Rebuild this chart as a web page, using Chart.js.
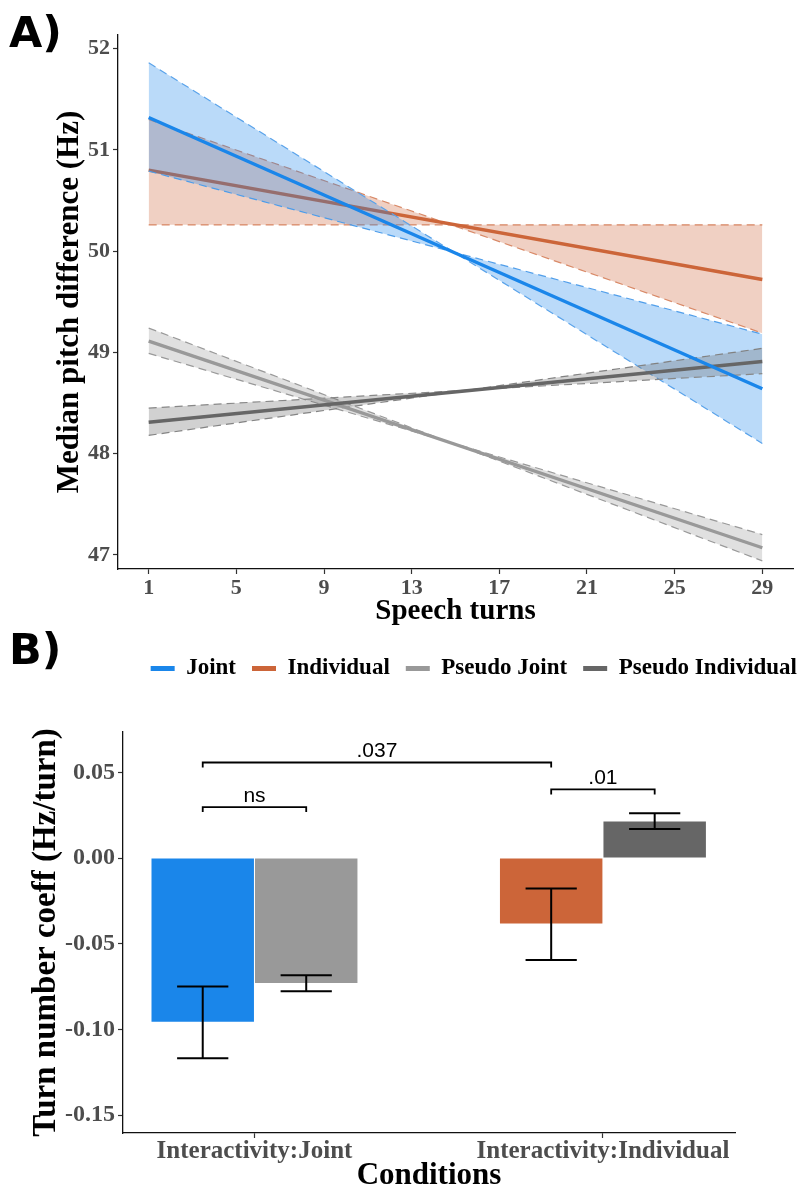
<!DOCTYPE html>
<html><head><meta charset="utf-8">
<script src="https://cdn.jsdelivr.net/npm/chart.js@4.4.1/dist/chart.umd.min.js"></script>
<style>
html,body{margin:0;padding:0;background:#fff;width:800px;height:1191px;overflow:hidden;}
#wa{position:absolute;left:0;top:0;width:800px;height:690px;}
#wb{position:absolute;left:0;top:690px;width:800px;height:501px;}
.pl{position:absolute;font-family:'DejaVu Sans';font-weight:bold;font-size:43px;line-height:1;color:#000;}
</style></head><body>
<div id="wa"><canvas id="ca" width="800" height="690"></canvas></div>
<div id="wb"><canvas id="cb" width="800" height="501"></canvas></div>
<div class="pl" style="left:9px;top:11px">A)</div>
<div class="pl" style="left:9px;top:628px">B)</div>
<script>
// ---------- Panel A data ----------
const turns = [1, 29];
const xTicksA = [1, 5, 9, 13, 17, 21, 25, 29];
const yTicksA = [47, 48, 49, 50, 51, 52];
const jointFit = [51.32, 48.64];
const jointCiA = [51.86, 48.10];
const jointCiB = [50.79, 49.18];
const indivFit = [50.80, 49.72];
const indivCiA = [51.30, 49.19];
const indivCiB = [50.26, 50.26];
const pJointFit = [49.11, 47.07];
const pJointCiA = [49.24, 46.94];
const pJointCiB = [48.99, 47.20];
const pIndivFit = [48.31, 48.91];
const pIndivCiA = [48.45, 48.79];
const pIndivCiB = [48.18, 49.04];
const seriesNames = ['Joint', 'Individual', 'Pseudo Joint', 'Pseudo Individual'];

// ---------- Panel B data ----------
const conditions = ['Interactivity:Joint', 'Interactivity:Individual'];
const yTicksB = [-0.15, -0.10, -0.05, 0.00, 0.05];
const realCoef = [-0.0955, -0.0382];
const realLo = [-0.1169, -0.0595];
const realHi = [-0.0750, -0.0177];
const pseudoCoef = [-0.0729, 0.0213];
const pseudoLo = [-0.0777, 0.0170];
const pseudoHi = [-0.0684, 0.0262];
const sigLabels = ['.037', 'ns', '.01'];
const sigY = [0.0558, 0.0298, 0.0401];

// ---------- styles ----------
const C = {
  joint: '#1a86ea', jointDash: '#5aa3ea', jointFill: 'rgba(26,134,234,0.30)',
  indiv: '#cc6539', indivDash: '#d98a68', indivFill: 'rgba(204,101,57,0.30)',
  pj: '#999999', pjDash: '#9a9a9a', pjFill: 'rgba(153,153,153,0.30)',
  pi: '#666666', piDash: '#888888', piFill: 'rgba(102,102,102,0.30)'
};
const SERIF = "'Liberation Serif', 'Times New Roman', serif";
const pts = ys => turns.map((t, i) => ({x: t, y: ys[i]}));
function fitLine(label, ys, color, rank) {
  return {label, data: pts(ys), borderColor: color, backgroundColor: color, borderWidth: 3.4,
    pointRadius: 0, fill: false, legendRank: rank, borderCapStyle: 'butt'};
}
function ciLine(ys, color, fillColor, target) {
  return {label: '', data: pts(ys), borderColor: color, borderWidth: 1.2, borderDash: [8, 5],
    pointRadius: 0, backgroundColor: fillColor, fill: target === undefined ? false : {target}};
}

// dataset 0 is drawn on top
const dsA = [
  fitLine(seriesNames[0], jointFit, C.joint, 0),            // 0
  fitLine(seriesNames[3], pIndivFit, C.pi, 3),              // 1
  fitLine(seriesNames[2], pJointFit, C.pj, 2),              // 2
  ciLine(pIndivCiA, C.piDash, C.piFill, 4),                 // 3
  ciLine(pIndivCiB, C.piDash, C.piFill),                    // 4
  ciLine(pJointCiA, C.pjDash, C.pjFill, 6),                 // 5
  ciLine(pJointCiB, C.pjDash, C.pjFill),                    // 6
  ciLine(jointCiA, C.jointDash, C.jointFill, 8),            // 7
  ciLine(jointCiB, C.jointDash, C.jointFill),               // 8
  fitLine(seriesNames[1], indivFit, C.indiv, 1),            // 9
  ciLine(indivCiA, C.indivDash, C.indivFill, 11),           // 10
  ciLine(indivCiB, C.indivDash, C.indivFill)                // 11
];

const legendShift = {
  id: 'legendShift',
  afterLayout(chart) {
    if (chart.legend) { chart.legend.left += 20; chart.legend.right += 20; }
  }
};

new Chart(document.getElementById('ca'), {
  type: 'line',
  data: {datasets: dsA},
  plugins: [legendShift],
  options: {
    responsive: false, animation: false, parsing: true,
    layout: {padding: {top: 35, right: 7, bottom: 0, left: 0}},
    plugins: {
      tooltip: {enabled: false},
      filler: {drawTime: 'beforeDatasetDraw', propagate: false},
      legend: {
        position: 'bottom', align: 'end',
        labels: {
          boxWidth: 24, boxHeight: 5, padding: 16, color: '#000',
          font: {family: SERIF, weight: 'bold', size: 23},
          generateLabels: chart => {
            const items = Chart.defaults.plugins.legend.labels.generateLabels(chart);
            const ds = chart.data.datasets;
            return items.filter(it => ds[it.datasetIndex].legendRank !== undefined)
              .sort((a, b) => ds[a.datasetIndex].legendRank - ds[b.datasetIndex].legendRank)
              .map(it => Object.assign(it, {fillStyle: ds[it.datasetIndex].borderColor,
                strokeStyle: 'rgba(0,0,0,0)', lineWidth: 0, lineDash: [], fontColor: '#000'}));
          }
        }
      }
    },
    scales: {
      x: {
        type: 'linear', min: -0.4, max: 30.4,
        afterBuildTicks: s => { s.ticks = xTicksA.map(v => ({value: v})); },
        afterFit: s => { s.height = 72; },
        grid: {offset: false, drawOnChartArea: false, drawTicks: true, tickLength: 5, tickColor: '#333', tickWidth: 1.2},
        border: {display: true, color: '#111', width: 1.3},
        ticks: {color: '#4d4d4d', padding: 3, maxRotation: 0, autoSkip: false,
          font: {family: SERIF, weight: 'bold', size: 22, lineHeight: 1}},
        title: {display: true, text: 'Speech turns', color: '#000',
          font: {family: SERIF, weight: 'bold', size: 29, lineHeight: 1.2}, padding: {top: 0, bottom: 12}}
      },
      y: {
        type: 'linear', min: 46.86, max: 52.135,
        afterBuildTicks: s => { s.ticks = yTicksA.map(v => ({value: v})); },
        afterFit: s => { s.width = 118; },
        grid: {drawOnChartArea: false, drawTicks: true, tickLength: 5, tickColor: '#333', tickWidth: 1.2},
        border: {display: true, color: '#111', width: 1.3},
        ticks: {color: '#4d4d4d', padding: 3,
          font: {family: SERIF, weight: 'bold', size: 22, lineHeight: 1}},
        title: {display: true, text: 'Median pitch difference (Hz)', color: '#000',
          font: {family: SERIF, weight: 'bold', size: 31, lineHeight: 1.2}, padding: {top: 51, bottom: 0}}
      }
    }
  }
});

// ---------- Panel B ----------
const errLo = [realLo, pseudoLo];
const errHi = [realHi, pseudoHi];
const sigFrom = [[0, 0], [0, 0], [0, 1]];
const sigTo = [[0, 1], [1, 0], [1, 1]];

const errPlugin = {
  id: 'errs',
  afterDatasetsDraw(chart) {
    const ctx = chart.ctx, ys = chart.scales.y;
    ctx.save();
    ctx.strokeStyle = '#000';
    ctx.lineWidth = 2;
    errLo.forEach((lo, d) => {
      chart.getDatasetMeta(d).data.forEach((bar, i) => {
        const x = bar.x, h = bar.width / 4;
        const y1 = ys.getPixelForValue(lo[i]), y2 = ys.getPixelForValue(errHi[d][i]);
        ctx.beginPath();
        ctx.moveTo(x, y1); ctx.lineTo(x, y2);
        ctx.moveTo(x - h, y1); ctx.lineTo(x + h, y1);
        ctx.moveTo(x - h, y2); ctx.lineTo(x + h, y2);
        ctx.stroke();
      });
    });
    ctx.lineWidth = 1.8;
    ctx.fillStyle = '#000';
    ctx.font = "21px 'Liberation Sans', Arial, sans-serif";
    ctx.textAlign = 'center';
    ctx.textBaseline = 'alphabetic';
    sigLabels.forEach((lab, k) => {
      const a = chart.getDatasetMeta(sigFrom[k][0]).data[sigFrom[k][1]];
      const b = chart.getDatasetMeta(sigTo[k][0]).data[sigTo[k][1]];
      const y = ys.getPixelForValue(sigY[k]);
      ctx.beginPath();
      ctx.moveTo(a.x, y + 5); ctx.lineTo(a.x, y); ctx.lineTo(b.x, y); ctx.lineTo(b.x, y + 5);
      ctx.stroke();
      ctx.fillText(lab, (a.x + b.x) / 2, y - 5);
    });
    ctx.restore();
  }
};

new Chart(document.getElementById('cb'), {
  type: 'bar',
  data: {
    datasets: [
      {label: 'Interaction', data: [1, 2].map((x, i) => ({x, y: realCoef[i]})),
        backgroundColor: [C.joint, C.indiv], borderWidth: 0},
      {label: 'Pseudo', data: [1, 2].map((x, i) => ({x, y: pseudoCoef[i]})),
        backgroundColor: [C.pj, C.pi], borderWidth: 0}
    ]
  },
  plugins: [errPlugin],
  options: {
    responsive: false, animation: false,
    categoryPercentage: 0.594, barPercentage: 0.99,
    layout: {padding: {top: 42, right: 65, bottom: 0, left: 0}},
    plugins: {legend: {display: false}, tooltip: {enabled: false}},
    scales: {
      x: {
        type: 'linear', min: 0.6227, max: 2.379, offset: false,
        afterBuildTicks: s => { s.ticks = [1, 2].map(v => ({value: v})); },
        afterFit: s => { s.height = 58; },
        grid: {offset: false, drawOnChartArea: false, drawTicks: true, tickLength: 5, tickColor: '#333', tickWidth: 1.2},
        border: {display: true, color: '#111', width: 1.3},
        ticks: {color: '#4d4d4d', padding: 1, maxRotation: 0, autoSkip: false,
          font: {family: SERIF, weight: 'bold', size: 25, lineHeight: 1},
          callback: v => conditions[Math.round(v) - 1]},
        title: {display: true, text: 'Conditions', color: '#000',
          font: {family: SERIF, weight: 'bold', size: 31, lineHeight: 1}, padding: {top: 0, bottom: 0}}
      },
      y: {
        type: 'linear', min: -0.1605, max: 0.0736,
        afterBuildTicks: s => { s.ticks = yTicksB.map(v => ({value: v})); },
        afterFit: s => { s.width = 123; },
        grid: {drawOnChartArea: false, drawTicks: true, tickLength: 5, tickColor: '#333', tickWidth: 1.2},
        border: {display: true, color: '#111', width: 1.3},
        ticks: {color: '#4d4d4d', padding: 3,
          font: {family: SERIF, weight: 'bold', size: 24, lineHeight: 1},
          callback: v => v.toFixed(2)},
        title: {display: true, text: 'Turn number coeff (Hz/turn)', color: '#000',
          font: {family: SERIF, weight: 'bold', size: 33, lineHeight: 1}, padding: {top: 30, bottom: 0}}
      }
    }
  }
});
</script>
</body></html>
